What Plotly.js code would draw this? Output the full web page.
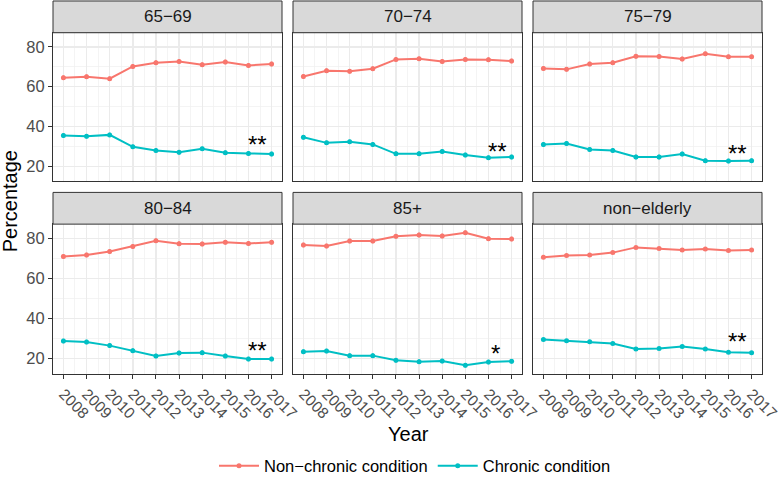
<!DOCTYPE html>
<html>
<head>
<meta charset="utf-8">
<script src="https://cdn.plot.ly/plotly-3.0.1.min.js"></script>
<style>html,body{margin:0;padding:0;background:#fff}#chart{width:780px;height:484px}</style>
</head>
<body>
<div id="chart"></div>
<script>
// ---------- data ----------
const years = [2008, 2009, 2010, 2011, 2012, 2013, 2014, 2015, 2016, 2017];
const groups = ["65−69", "70−74", "75−79", "80−84", "85+", "non−elderly"];
const seriesNames = ["Non−chronic condition", "Chronic condition"];

const nonChronic_65_69 = [64.5, 65.0, 64.0, 70.2, 72.0, 72.7, 71.0, 72.4, 70.7, 71.4];
const chronic_65_69    = [35.5, 35.1, 35.8, 29.8, 28.0, 27.1, 28.8, 26.8, 26.5, 26.2];
const nonChronic_70_74 = [65.1, 68.0, 67.7, 69.0, 73.7, 74.0, 72.7, 73.7, 73.5, 72.9];
const chronic_70_74    = [34.6, 31.8, 32.3, 31.0, 26.3, 26.3, 27.5, 25.7, 24.3, 24.7];
const nonChronic_75_79 = [69.2, 68.7, 71.4, 72.0, 75.3, 75.2, 73.9, 76.5, 75.0, 75.0];
const chronic_75_79    = [31.0, 31.5, 28.5, 28.0, 24.7, 24.7, 26.2, 22.8, 22.7, 22.8];
const nonChronic_80_84 = [71.0, 71.7, 73.4, 76.0, 78.8, 77.3, 77.2, 78.0, 77.5, 78.0];
const chronic_80_84    = [28.8, 28.3, 26.5, 24.0, 21.3, 22.8, 23.0, 21.3, 19.8, 19.8];
const nonChronic_85p   = [76.7, 76.2, 78.7, 78.7, 81.0, 81.7, 81.2, 82.8, 79.8, 79.7];
const chronic_85p      = [23.5, 23.8, 21.5, 21.5, 19.2, 18.5, 18.8, 16.7, 18.3, 18.7];
const nonChronic_nonEld = [70.6, 71.4, 71.7, 72.9, 75.5, 75.0, 74.2, 74.7, 74.0, 74.2];
const chronic_nonEld    = [29.6, 28.9, 28.4, 27.5, 24.8, 25.1, 26.0, 24.8, 23.2, 23.0];

const nonChronicByGroup = [nonChronic_65_69, nonChronic_70_74, nonChronic_75_79, nonChronic_80_84, nonChronic_85p, nonChronic_nonEld];
const chronicByGroup = [chronic_65_69, chronic_70_74, chronic_75_79, chronic_80_84, chronic_85p, chronic_nonEld];
const errorByGroup = [1.1, 1.1, 1.1, 1.1, 1.1, 0.3];

const starLabels = ["**", "**", "**", "**", "*", "**"];
const starX = [2016.4, 2016.4, 2016.4, 2016.4, 2016.3, 2016.4];
const starY = [33.8, 30.5, 29.6, 27.1, 25.5, 31.6];

const yTicks = [20, 40, 60, 80];

// ---------- styling / layout ----------
const colors = ["#F8766D", "#00BFC4"];
const FONT = "Liberation Sans, Arial, Helvetica, sans-serif";
const W = 780, H = 484;
const colPx = [[53, 282], [293, 522], [533, 762]];
const rowPx = [[33, 183], [226, 377]];
const stripPx = [[1, 33], [194, 226]];

const traces = [];
const layout = {
  width: W, height: H,
  margin: {l: 0, r: 0, t: 0, b: 0},
  paper_bgcolor: "#ffffff", plot_bgcolor: "#ffffff",
  font: {family: FONT, color: "#000"},
  showlegend: true,
  legend: {orientation: "h", x: 415 / W, xanchor: "center", y: 1 - 470 / H, yanchor: "middle",
           font: {size: 16.5, family: FONT, color: "#000"}, itemwidth: 40},
  shapes: [], annotations: []
};

groups.forEach((g, i) => {
  const r = Math.floor(i / 3), c = i % 3;
  const n = i + 1;
  const xa = n === 1 ? "xaxis" : "xaxis" + n;
  const ya = n === 1 ? "yaxis" : "yaxis" + n;
  const xr = n === 1 ? "x" : "x" + n;
  const yr = n === 1 ? "y" : "y" + n;
  const series = [nonChronicByGroup[i], chronicByGroup[i]];
  series.forEach((vals, s) => {
    traces.push({
      type: "scatter", mode: "lines+markers",
      x: years, y: vals, xaxis: xr, yaxis: yr,
      name: seriesNames[s], legendgroup: seriesNames[s], showlegend: i === 0,
      line: {color: colors[s], width: 2},
      marker: {color: colors[s], size: 5},
      error_y: {type: "data", array: vals.map(() => errorByGroup[i]), color: colors[s], thickness: 2, width: 0}
    });
  });
  const bottom = r === 1, left = c === 0;
  layout[xa] = {
    domain: [colPx[c][0] / W, colPx[c][1] / W], anchor: yr,
    range: [2007.55, 2017.45], tickmode: "array", tickvals: years, ticktext: years.map(String),
    showticklabels: bottom, ticks: bottom ? "outside" : "", ticklen: 4, tickcolor: "#333333", tickwidth: 1,
    tickangle: 45, tickfont: {size: 15.5, color: "#4D4D4D", family: FONT}, ticklabeloverflow: "allow",
    showgrid: true, gridcolor: "#EBEBEB", gridwidth: 1.4,
    minor: {tick0: 2007.5, dtick: 1, showgrid: true, gridcolor: "#EFEFEF", gridwidth: 0.7},
    zeroline: false, showline: true, mirror: true, linecolor: "#333333", linewidth: 1,
    fixedrange: true
  };
  layout[ya] = {
    domain: [1 - rowPx[r][1] / H, 1 - rowPx[r][0] / H], anchor: xr,
    range: [12.4, 87.1], tickmode: "array", tickvals: yTicks, ticktext: yTicks.map(String),
    showticklabels: left, ticks: left ? "outside" : "", ticklen: 4, tickcolor: "#333333", tickwidth: 1,
    tickfont: {size: 16.5, color: "#4D4D4D", family: FONT},
    showgrid: true, gridcolor: "#EBEBEB", gridwidth: 1.4,
    minor: {tick0: 10, dtick: 20, showgrid: true, gridcolor: "#EFEFEF", gridwidth: 0.7},
    zeroline: false, showline: true, mirror: true, linecolor: "#333333", linewidth: 1,
    fixedrange: true
  };
  // strip
  layout.shapes.push({type: "rect", xref: "paper", yref: "paper",
    x0: colPx[c][0] / W, x1: colPx[c][1] / W,
    y0: 1 - stripPx[r][1] / H, y1: 1 - stripPx[r][0] / H,
    fillcolor: "#D9D9D9", line: {color: "#333333", width: 1}});
  layout.annotations.push({xref: "paper", yref: "paper",
    x: (colPx[c][0] + colPx[c][1]) / 2 / W, y: 1 - (stripPx[r][0] + stripPx[r][1]) / 2 / H,
    text: g, showarrow: false, xanchor: "center", yanchor: "middle",
    font: {size: 17, color: "#1A1A1A", family: FONT}});
  // significance stars
  layout.annotations.push({xref: xr, yref: yr, x: starX[i], y: starY[i], text: starLabels[i],
    showarrow: false, xanchor: "center", yanchor: "middle", yshift: -6,
    font: {size: 24, color: "#000", family: FONT}});
});

layout.annotations.push({xref: "paper", yref: "paper", x: 10 / W, y: 1 - 203 / H, text: "Percentage",
  textangle: -90, showarrow: false, xanchor: "center", yanchor: "middle", font: {size: 20, color: "#000", family: FONT}});
layout.annotations.push({xref: "paper", yref: "paper", x: 408 / W, y: 1 - 438 / H, text: "Year",
  showarrow: false, xanchor: "center", yanchor: "middle", font: {size: 20, color: "#000", family: FONT}});

Plotly.newPlot("chart", traces, layout, {displayModeBar: false, staticPlot: true});
</script>
</body>
</html>
